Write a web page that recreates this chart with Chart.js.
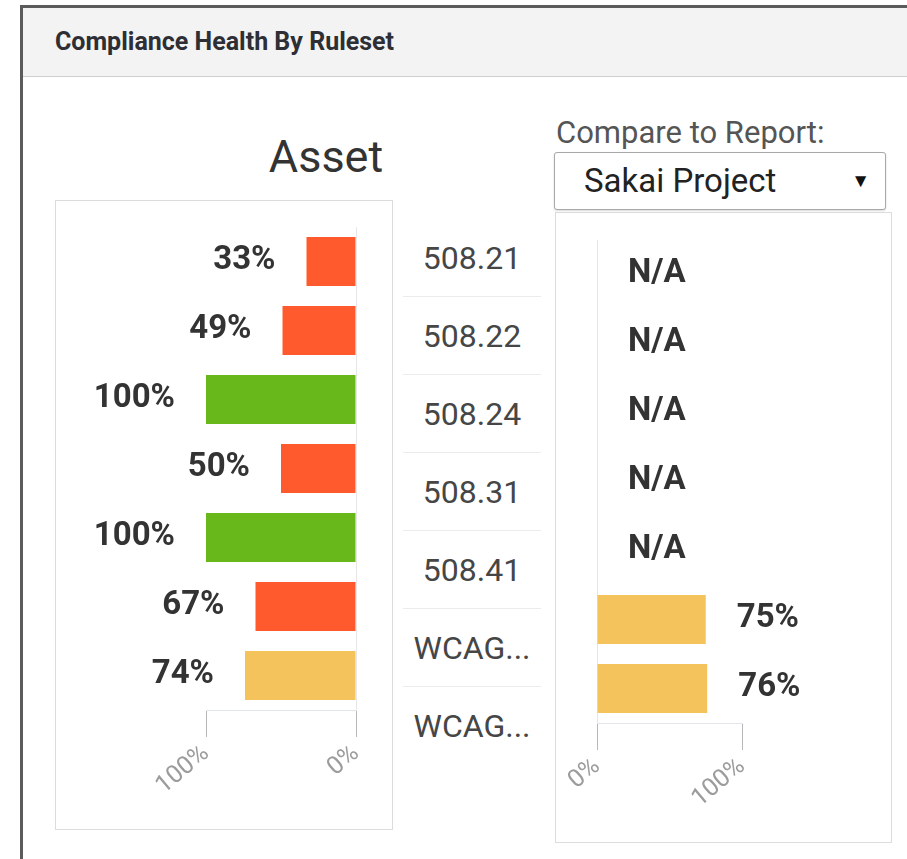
<!DOCTYPE html>
<html>
<head>
<meta charset="utf-8">
<script src="https://cdn.jsdelivr.net/npm/chart.js@4.4.0/dist/chart.umd.min.js"></script>
<style>
  body { margin: 0; width: 907px; height: 859px; overflow: hidden; position: relative; background: #fff; font-family: Roboto, 'Open Sans', sans-serif; }
  .abs { position: absolute; }
  .frame { left: 20px; top: 5px; width: 900px; height: 870px; border-left: 3px solid #5b5b5b; border-top: 3px solid #5b5b5b; }
  .header { left: 23px; top: 8px; width: 884px; height: 68px; background: #f3f3f3; border-bottom: 1px solid #cfcfcf; }
  .header-title { left: 55px; top: 24px; line-height: 36px; font-size: 25px; font-weight: bold; color: #2e2e35; white-space: nowrap; }
  .box { border: 1px solid #dcdcdc; }
  .asset { left: 240px; width: 172px; top: 130px; line-height: 54px; text-align: center; font-size: 45px; color: #333; }
  .compare-label { left: 556px; top: 114px; line-height: 38px; font-size: 31px; color: #555; white-space: nowrap; }
  .select { left: 554px; top: 152px; width: 330px; height: 56px; border: 1px solid #a8a8a8; border-radius: 3px; box-shadow: 0 1px 2px rgba(0,0,0,0.15); background: #fff; }
  .select span { position: absolute; left: 29px; top: 0; line-height: 56px; font-size: 33px; color: #222; }
  .select i { position: absolute; right: 15px; top: 0; line-height: 56px; font-size: 19px; font-style: normal; color: #111; }
  .cat { left: 403px; width: 138px; height: 77px; line-height: 78px; text-align: center; font-size: 32px; color: #464646; border-bottom: 1px solid #ececec; white-space: nowrap; }
  .cat.last { border-bottom: none; }
</style>
</head>
<body>
<div class="abs frame"></div>
<div class="abs header"></div>
<div class="abs header-title">Compliance Health By Ruleset</div>

<div class="abs asset">Asset</div>
<div class="abs box" style="left:55px; top:200px; width:336px; height:628px;"></div>
<canvas id="assetChart" class="abs" width="335" height="627" style="left:56px; top:201px;"></canvas>

<div id="categoryColumn"></div>

<div class="abs compare-label">Compare to Report:</div>
<div class="abs select"><span id="reportName"></span><i>&#9660;</i></div>
<div class="abs box" style="left:555px; top:212px; width:335px; height:629px;"></div>
<canvas id="compareChart" class="abs" width="334" height="628" style="left:556px; top:213px;"></canvas>

<script>
// values
var categories     = [ '508.21', '508.22', '508.24', '508.31', '508.41', 'WCAG...', 'WCAG...' ];
var assetScores    = [ 33, 49, 100, 50, 100, 67, 74 ];
var compareScores  = [ null, null, null, null, null, 75, 76 ];
var axisTicks      = [ 0, 100 ];
var compareReport  = 'Sakai Project';

Chart.defaults.font.family = 'Roboto';

/** Bar colour by score band */
function scoreColor( v ) {
    if ( v >= 100 ) { return '#68b71b'; }
    if ( v >= 70 ) { return '#f5c35b'; }
    return '#ff5a2d';
}

/** Draws the percentage (or N/A) next to each bar */
var valueLabels = {
    id: 'valueLabels',
    afterDatasetsDraw: function( chart ) {
        var ctx = chart.ctx;
        var xs = chart.scales.x, ys = chart.scales.y;
        var values = chart.data.datasets[ 0 ].data;
        var dir = xs.options.reverse ? -1 : 1;
        ctx.save();
        ctx.font = 'bold 33px Roboto';
        ctx.fillStyle = '#333';
        ctx.textBaseline = 'middle';
        ctx.textAlign = dir < 0 ? 'right' : 'left';
        values.forEach( function( v, i ) {
            var x = xs.getPixelForValue( v == null ? 0 : v ) + dir * 31;
            var y = ys.getPixelForValue( i ) - 1;
            ctx.fillText( v == null ? 'N/A' : v + '%', x, y );
        });
        ctx.restore();
    }
};

function barChart( id, values, reversed ) {
    return new Chart( document.getElementById( id ), {
        type: 'bar',
        data: {
            labels: categories,
            datasets: [{
                data: values,
                backgroundColor: values.map( scoreColor ),
                barPercentage: 0.71,
                categoryPercentage: 1
            }]
        },
        options: {
            indexAxis: 'y',
            responsive: false,
            animation: false,
            layout: {
                padding: reversed ? { left: 150, right: 35, top: 26, bottom: 0 }
                                  : { left: 41, right: 148, top: 27, bottom: 0 }
            },
            plugins: { legend: { display: false }, tooltip: { enabled: false } },
            scales: {
                x: {
                    type: 'linear', min: 0, max: 100, reverse: reversed,
                    afterBuildTicks: function( s ) { s.ticks = axisTicks.map( function( v ) { return { value: v }; } ); },
                    afterFit: function( s ) { s.height = 118; },
                    grid: { drawOnChartArea: false, tickLength: 27, color: '#b8b8b8' },
                    border: { color: '#e2e5eb' },
                    ticks: {
                        minRotation: 40, maxRotation: 40, padding: 2,
                        color: '#9c9c9c', font: { size: 25 },
                        callback: function( v ) { return v + '%'; }
                    }
                },
                y: {
                    position: reversed ? 'right' : 'left',
                    afterFit: function( s ) { s.width = 0; },
                    grid: { display: false },
                    border: { color: '#e6e6e6' },
                    ticks: { display: false }
                }
            }
        },
        plugins: [ valueLabels ]
    });
}

// middle column of ruleset names
var col = document.getElementById( 'categoryColumn' );
categories.forEach( function( name, i ) {
    var d = document.createElement( 'div' );
    d.className = 'abs cat' + ( i == categories.length - 1 ? ' last' : '' );
    d.style.top = ( 219 + i * 78 ) + 'px';
    d.textContent = name;
    col.appendChild( d );
});
document.getElementById( 'reportName' ).textContent = compareReport;

barChart( 'assetChart', assetScores, true );
barChart( 'compareChart', compareScores, false );
</script>
</body>
</html>
